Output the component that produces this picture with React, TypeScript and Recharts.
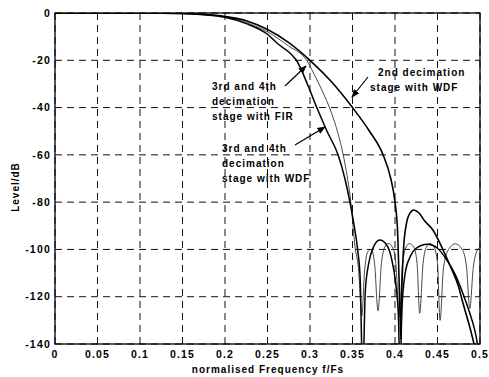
import React from 'react';
import { CartesianGrid, Line, LineChart, XAxis, YAxis } from 'recharts';

// normalised frequency ticks and level ticks (dB)
const freqTicks = [0, 0.05, 0.1, 0.15, 0.2, 0.25, 0.3, 0.35, 0.4, 0.45, 0.5];
const levelTicks = [-140, -120, -100, -80, -60, -40, -20, 0];

// 2nd decimation stage with WDF
const wdf2Freq = [
  0, 0.05, 0.1, 0.15, 0.175, 0.2, 0.225, 0.25, 0.275, 0.3, 0.325, 0.35, 0.37, 0.386, 0.395, 0.4,
  0.403, 0.406, 0.407, 0.408, 0.41, 0.413, 0.417, 0.422, 0.428, 0.435, 0.445, 0.455, 0.465, 0.475,
  0.48, 0.485, 0.49, 0.493, 0.497, 0.5,
];
const wdf2Level = [
  0, 0, 0, -0.2, -0.6, -1.5, -3.3, -7, -12.5, -20, -29, -40, -50, -60, -70, -80,
  -92, -128, -138, -118, -100, -90, -85, -83.3, -84.5, -88, -92, -99, -107, -116,
  -122.8, -129, -135.6, -140, -147, -160,
];

// 3rd and 4th decimation stage with WDF
const wdf34Freq = [
  0, 0.05, 0.1, 0.15, 0.175, 0.2, 0.225, 0.25, 0.262, 0.275, 0.284, 0.298, 0.308, 0.32, 0.333, 0.341,
  0.347, 0.352, 0.356, 0.359, 0.362, 0.365, 0.369, 0.374, 0.382, 0.39, 0.396, 0.401, 0.404, 0.406,
  0.408, 0.412, 0.418, 0.425, 0.438, 0.45, 0.461, 0.47, 0.48, 0.488, 0.493, 0.497, 0.5,
];
const wdf34Level = [
  0, 0, 0, -0.2, -0.7, -1.8, -4.5, -9, -13, -16.5, -20, -31, -40, -50, -60, -70,
  -80, -90, -100, -112, -155, -118, -106, -99.5, -96, -98, -104, -115, -128, -155,
  -126, -110, -103, -99.5, -97.8, -99.5, -104.5, -110, -118.7, -127, -133, -140, -150,
];

// 3rd and 4th decimation stage with FIR
const firFreq = [
  0, 0.05, 0.1, 0.15, 0.175, 0.2, 0.225, 0.25, 0.275, 0.296, 0.305, 0.314, 0.325, 0.333, 0.341, 0.348,
  0.353, 0.357, 0.361, 0.364, 0.368, 0.372, 0.376, 0.38, 0.384, 0.388, 0.392, 0.397, 0.401, 0.405,
  0.409, 0.413, 0.417, 0.422, 0.426, 0.429, 0.433, 0.437, 0.441, 0.446, 0.45, 0.453, 0.457, 0.463,
  0.471, 0.479, 0.484, 0.488, 0.492, 0.496, 0.5,
];
const firLevel = [
  0, 0, 0, -0.2, -0.6, -1.6, -4, -8, -14, -20, -26, -32.6, -42, -51, -63.5, -80,
  -99, -108, -128, -110, -101, -100, -106, -126, -106, -99, -97.5, -99, -106, -128,
  -106, -99, -97.5, -99, -106, -127, -106, -99, -97.5, -99, -106, -130, -108, -100,
  -97.6, -100, -107, -125, -108, -101, -99,
];

const zip = (f: number[], l: number[]) => f.map((freq, i) => ({ freq, level: l[i] }));
const wdf2Data = zip(wdf2Freq, wdf2Level);
const wdf34Data = zip(wdf34Freq, wdf34Level);
const firData = zip(firFreq, firLevel);

const font = '"Liberation Sans", Arial, sans-serif';
const tickStyle = { fill: '#000', fontSize: 10.5, fontWeight: 700, fontFamily: font, letterSpacing: 1.2 };
const noteStyle = { fill: '#000', fontSize: 10, fontWeight: 700, fontFamily: font, letterSpacing: 1 } as const;

export default function App() {
  return (
    <div style={{ position: 'absolute', left: 0, top: 0, width: 489, height: 377, background: '#fff' }}>
      <LineChart width={489} height={377} data={firData} margin={{ top: 13, right: 9, bottom: 0, left: 0 }}>
        <defs>
          <marker id="pfeil" viewBox="0 0 10 10" refX="9" refY="5" markerWidth="7" markerHeight="7" orient="auto">
            <path d="M0,1 L10,5 L0,9 z" fill="#000" />
          </marker>
        </defs>
        <CartesianGrid stroke="#111" strokeDasharray="7 5" strokeWidth={1} />
        <XAxis
          type="number"
          dataKey="freq"
          domain={[0, 0.5]}
          ticks={freqTicks}
          tick={tickStyle}
          tickLine={false}
          tickSize={0}
          tickMargin={7}
          axisLine={false}
          height={33}
          allowDataOverflow
        />
        <YAxis
          type="number"
          domain={[-140, 0]}
          ticks={levelTicks}
          tick={tickStyle}
          tickLine={false}
          tickSize={0}
          tickMargin={4}
          axisLine={false}
          width={55}
          allowDataOverflow
        />
        <Line data={firData} dataKey="level" type="monotone" stroke="#333" strokeWidth={0.9} dot={false} isAnimationActive={false} />
        <Line data={wdf34Data} dataKey="level" type="monotone" stroke="#000" strokeWidth={1.5} dot={false} isAnimationActive={false} />
        <Line data={wdf2Data} dataKey="level" type="monotone" stroke="#000" strokeWidth={1.6} dot={false} isAnimationActive={false} />

        <rect x={55} y={13} width={425} height={331} fill="none" stroke="#000" strokeWidth={1.3} />

        <text {...noteStyle} x={212} y={90}>3rd and 4th</text>
        <text {...noteStyle} x={212} y={105}>decimation</text>
        <text {...noteStyle} x={212} y={120}>stage with FIR</text>
        <line x1={285} y1={86} x2={306} y2={66} stroke="#000" strokeWidth={1.2} markerEnd="url(#pfeil)" />

        <text {...noteStyle} x={222} y={152}>3rd and 4th</text>
        <text {...noteStyle} x={222} y={167}>decimation</text>
        <text {...noteStyle} x={222} y={182}>stage with WDF</text>
        <line x1={295} y1={145} x2={325} y2={127} stroke="#000" strokeWidth={1.2} markerEnd="url(#pfeil)" />

        <text {...noteStyle} x={378} y={76}>2nd decimation</text>
        <text {...noteStyle} x={370} y={91}>stage with WDF</text>
        <line x1={368} y1={77} x2={352} y2={97} stroke="#000" strokeWidth={1.2} markerEnd="url(#pfeil)" />

        <text {...noteStyle} x={268} y={373} textAnchor="middle">normalised Frequency f/Fs</text>
        <text {...noteStyle} x={19} y={187} textAnchor="middle" transform="rotate(-90 19 187)">Level/dB</text>
      </LineChart>
    </div>
  );
}
